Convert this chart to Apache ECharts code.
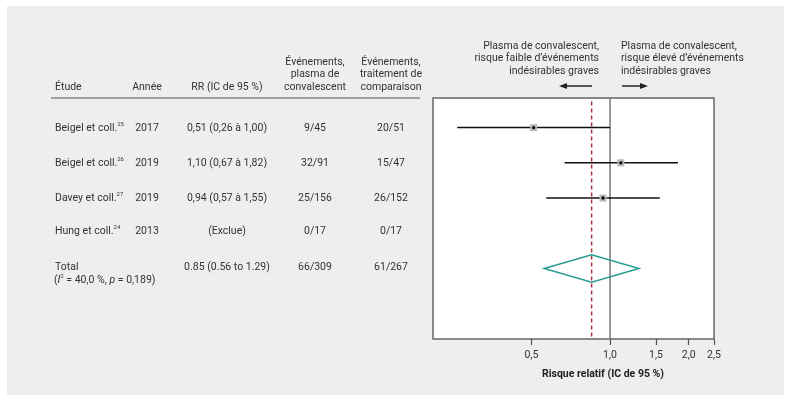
<!DOCTYPE html>
<html>
<head>
<meta charset="utf-8">
<script src="https://cdn.jsdelivr.net/npm/echarts@6/dist/echarts.min.js"></script>
<style>
html,body{margin:0;padding:0;background:#fff;}
#panel{position:absolute;left:7px;top:6px;width:777px;height:389px;background:#edeeed;}
#chart{position:absolute;left:0;top:0;width:791px;height:402px;}
</style>
</head>
<body>
<div id="panel"></div>
<div id="chart"></div>
<script>
// ---- data ----
const studies = ['Beigel et coll.', 'Beigel et coll.', 'Davey et coll.', 'Hung et coll.'];
const refs = ['25', '26', '27', '24'];
const years = ['2017', '2019', '2019', '2013'];
const rrText = ['0,51 (0,26 à 1,00)', '1,10 (0,67 à 1,82)', '0,94 (0,57 à 1,55)', '(Exclue)'];
const rr = [0.51, 1.10, 0.94, null];
const ciLow = [0.26, 0.67, 0.57, null];
const ciHigh = [1.00, 1.82, 1.55, null];
const eventsPlasma = ['9/45', '32/91', '25/156', '0/17'];
const eventsComp = ['20/51', '15/47', '26/152', '0/17'];
const pooled = [0.85, 0.56, 1.29];
const totalText = '0.85 (0.56 to 1.29)';
const totalPlasma = '66/309';
const totalComp = '61/267';
const xTicks = [0.5, 1.0, 1.5, 2.0, 2.5];
const nullLine = 1.0;

// ---- layout ----
const FONT = 'Roboto';
const FS = 10.5;
const TXT = '#333';
const rowY = [128, 163, 198, 231, 267];
const colStudy = 55, colYear = 147, colRR = 227, colPl = 315, colCmp = 391;
const yMin = -0.84, yMax = 6.0;

const chart = echarts.init(document.getElementById('chart'), null, {renderer: 'canvas'});

function txt(x, y, text, align, extra) {
  return Object.assign({
    type: 'text', x: x, y: y,
    style: {text: text, align: align || 'left', verticalAlign: 'middle',
      font: FS + 'px ' + FONT, fill: TXT}
  }, extra || {});
}
const richBase = {
  n: {fontSize: FS, fontFamily: FONT, fill: TXT, lineHeight: 14},
  s: {fontSize: 6, fontFamily: FONT, fill: TXT, verticalAlign: 'top', lineHeight: 14},
  i: {fontSize: FS, fontFamily: FONT, fill: TXT, fontStyle: 'italic', lineHeight: 14}
};

const g = [];
// header
g.push(txt(colStudy, 87, 'Étude'));
g.push(txt(colYear, 87, 'Année', 'center'));
g.push(txt(colRR, 87, 'RR (IC de 95 %)', 'center'));
['Événements,', 'plasma de', 'convalescent'].forEach((t, k) => g.push(txt(colPl, 62 + 12.5 * k, t, 'center')));
['Événements,', 'traitement de', 'comparaison'].forEach((t, k) => g.push(txt(colCmp, 62 + 12.5 * k, t, 'center')));
g.push({type: 'line', shape: {x1: 51, y1: 98, x2: 420, y2: 98}, style: {stroke: '#555', lineWidth: 1.2}});
// rows
studies.forEach((s, i) => {
  g.push({type: 'text', x: colStudy, y: rowY[i], style: {
    text: '{n|' + s + '}{s|' + refs[i] + '}', rich: richBase, verticalAlign: 'middle', align: 'left'}});
  g.push(txt(colYear, rowY[i], years[i], 'center'));
  g.push(txt(colRR, rowY[i], rrText[i], 'center'));
  g.push(txt(colPl, rowY[i], eventsPlasma[i], 'center'));
  g.push(txt(colCmp, rowY[i], eventsComp[i], 'center'));
});
g.push(txt(colStudy, 267, 'Total'));
g.push({type: 'text', x: colStudy - 1, y: 280, style: {
  text: '{n|(}{i|I}{s|2}{n| = 40,0 %, }{i|p}{n| = 0,189)}', rich: richBase, verticalAlign: 'middle', align: 'left'}});
g.push(txt(colRR, 267, totalText, 'center'));
g.push(txt(colPl, 267, totalPlasma, 'center'));
g.push(txt(colCmp, 267, totalComp, 'center'));
// annotations
['Plasma de convalescent,', 'risque faible d’événements', 'indésirables graves'].forEach((t, k) => g.push(txt(599, 46 + 12.8 * k, t, 'right')));
['Plasma de convalescent,', 'risque élevé d’événements', 'indésirables graves'].forEach((t, k) => g.push(txt(621, 46 + 12.8 * k, t, 'left')));
// arrows
g.push({type: 'line', shape: {x1: 566, y1: 86, x2: 592, y2: 86}, style: {stroke: '#222', lineWidth: 1.5}});
g.push({type: 'polygon', shape: {points: [[559, 86], [567, 83], [567, 89]]}, style: {fill: '#222'}});
g.push({type: 'line', shape: {x1: 622, y1: 86, x2: 641, y2: 86}, style: {stroke: '#222', lineWidth: 1.5}});
g.push({type: 'polygon', shape: {points: [[648, 86], [640, 83], [640, 89]]}, style: {fill: '#222'}});
// axis title
g.push({type: 'text', x: 603, y: 374, style: {text: 'Risque relatif (IC de 95 %)', align: 'center', verticalAlign: 'middle',
  font: 'bold ' + FS + 'px ' + FONT, fill: '#222'}});

const ciData = [];
rr.forEach((v, i) => { if (v != null) ciData.push([v, ciLow[i], ciHigh[i], i]); });

const option = {
  animation: false,
  backgroundColor: 'transparent',
  grid: {left: 433, top: 98, width: 281, height: 241, show: true,
    backgroundColor: '#fff', borderColor: '#666', borderWidth: 1.5},
  xAxis: {
    type: 'log', logBase: 10, min: 0.21, max: 2.5, position: 'bottom',
    axisLine: {show: false, onZero: false},
    splitLine: {show: false},
    axisTick: {show: true, customValues: xTicks, length: 6, lineStyle: {color: '#555', width: 1.2}},
    axisLabel: {customValues: xTicks, margin: 11, fontFamily: FONT, fontSize: FS, color: TXT,
      formatter: v => Number(v).toFixed(1).replace('.', ',')},
    minorTick: {show: false}
  },
  yAxis: {type: 'value', inverse: true, min: yMin, max: yMax, show: false},
  graphic: {elements: g},
  series: [
    {
      type: 'line', data: [[nullLine, yMin], [nullLine, yMax]], showSymbol: false, silent: true,
      lineStyle: {color: '#777', width: 1.5}, z: 1
    },
    {
      type: 'line', data: [[pooled[0], yMin + 0.1], [pooled[0], yMax]], showSymbol: false, silent: true,
      lineStyle: {color: '#a3333d', width: 1.5, type: [4, 3]}, z: 2
    },
    {
      type: 'custom', data: ciData, z: 3,
      encode: {x: [0, 1, 2], y: 3},
      renderItem: function (params, api) {
        const r = api.value(3);
        const pc = api.coord([api.value(0), r]);
        const pl = api.coord([api.value(1), r]);
        const ph = api.coord([api.value(2), r]);
        return {type: 'group', children: [
          {type: 'line', shape: {x1: pl[0], y1: pl[1], x2: ph[0], y2: ph[1]}, style: {stroke: '#111', lineWidth: 1.5}},
          {type: 'rect', shape: {x: pc[0] - 3.5, y: pc[1] - 3.5, width: 7, height: 7}, style: {fill: '#b9b9b9'}},
          {type: 'circle', shape: {cx: pc[0], cy: pc[1], r: 1.7}, style: {fill: '#000'}}
        ]};
      }
    },
    {
      type: 'custom', data: [[pooled[0], pooled[1], pooled[2], 4]], z: 4,
      encode: {x: [0, 1, 2], y: 3},
      renderItem: function (params, api) {
        const r = api.value(3);
        const pc = api.coord([api.value(0), r]);
        const pl = api.coord([api.value(1), r]);
        const ph = api.coord([api.value(2), r]);
        const h = 13.8;
        return {type: 'polygon', shape: {points: [[pl[0], pl[1]], [pc[0], pc[1] - h], [ph[0], ph[1]], [pc[0], pc[1] + h]]},
          style: {fill: 'none', stroke: '#2a9b93', lineWidth: 1.5}};
      }
    }
  ]
};
chart.setOption(option);
</script>
</body>
</html>
